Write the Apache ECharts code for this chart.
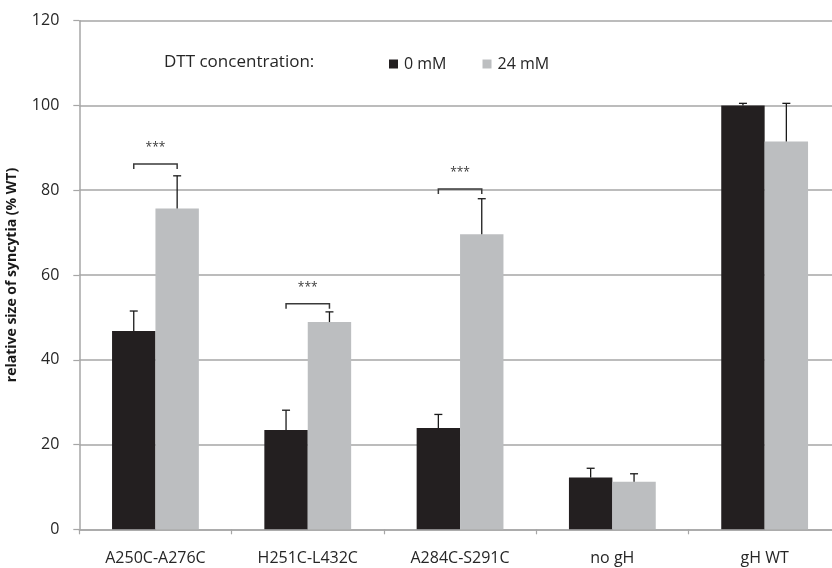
<!DOCTYPE html>
<html>
<head>
<meta charset="utf-8">
<script src="https://cdn.jsdelivr.net/npm/echarts@6/dist/echarts.min.js"></script>
<style>html,body{margin:0;padding:0;background:#fff}#c{width:832px;height:568px}</style>
</head>
<body>
<div id="c"></div>
<script>
const categories = ['A250C-A276C', 'H251C-L432C', 'A284C-S291C', 'no gH', 'gH WT'];
const seriesNames = ['0 mM', '24 mM'];
const values0mM = [46.8, 23.4, 23.9, 12.2, 100.0];
const errTop0mM = [51.5, 28.1, 27.1, 14.4, 100.5];
const values24mM = [75.7, 48.9, 69.6, 11.2, 91.5];
const errTop24mM = [83.4, 51.3, 78.0, 13.1, 100.5];
// significance brackets: category index, bracket level, label
const sigCategories = [0, 1, 2];
const sigLevels = [86.2, 53.2, 80.3];
const sigLabels = ['***', '***', '***'];
const yTicks = [0, 20, 40, 60, 80, 100, 120];

const COLORS = ['#231f20', '#bcbec0'];
const FONT = '"Open Sans", "Noto Sans", sans-serif';
const CAT_GAP = 0.43;

function barHalf(api) {
  const band = api.size([1, 0])[0];
  return band * (1 - CAT_GAP) / 2;
}

function errSeries(idx, vals, tops) {
  return {
    type: 'custom',
    name: seriesNames[idx] + ' err',
    z: 5,
    silent: true,
    data: vals.map((v, i) => [i, v, tops[i]]),
    renderItem: function (params, api) {
      const bw = barHalf(api);
      const base = api.coord([api.value(0), api.value(1)]);
      const top = api.coord([api.value(0), api.value(2)]);
      const x = base[0] + (idx === 0 ? -bw / 2 : bw / 2);
      const style = { stroke: '#1a1a1a', lineWidth: 1.3 };
      return {
        type: 'group',
        children: [
          { type: 'line', shape: { x1: x, y1: base[1], x2: x, y2: top[1] }, style },
          { type: 'line', shape: { x1: x - 4, y1: top[1], x2: x + 4, y2: top[1] }, style }
        ]
      };
    }
  };
}

const chart = echarts.init(document.getElementById('c'));
chart.setOption({
  animation: false,
  backgroundColor: '#fff',
  grid: { left: 79.3, top: 20.7, height: 508.6, width: 761.5, containLabel: false, outerBoundsMode: 'none' },
  legend: {
    left: 384, top: 51,
    itemWidth: 9, itemHeight: 9, itemGap: 36,
    icon: 'rect',
    data: seriesNames,
    textStyle: { fontFamily: FONT, fontSize: 16, color: '#262626', padding: [0, 0, 0, 1] }
  },
  graphic: [{
    type: 'text', left: 164, top: 54,
    style: { text: 'DTT concentration:', font: '17px ' + FONT, fill: '#262626' }
  }],
  xAxis: {
    type: 'category',
    data: categories,
    boundaryGap: true,
    axisLine: { lineStyle: { color: '#a6a6a6', width: 1.5 } },
    axisTick: { show: true, length: 5, lineStyle: { color: '#a6a6a6', width: 1.2 } },
    axisLabel: { fontFamily: FONT, fontSize: 16, color: '#262626', margin: 21 }
  },
  yAxis: {
    type: 'value',
    min: 0, max: 120, interval: 20,
    name: 'relative size of syncytia (% WT)',
    nameLocation: 'middle',
    nameGap: 60,
    nameTextStyle: { fontFamily: FONT, fontSize: 14, fontWeight: 'bold', color: '#1a1a1a' },
    axisLine: { show: true, lineStyle: { color: '#a6a6a6', width: 1.5 } },
    axisTick: { show: true, length: 6, lineStyle: { color: '#a6a6a6', width: 1.2 } },
    splitLine: { show: true, lineStyle: { color: '#a6a6a6', width: 1.5 } },
    axisLabel: { fontFamily: FONT, fontSize: 16, color: '#262626', margin: 20,
      formatter: v => yTicks.includes(v) ? String(v) : '' }
  },
  series: [
    { type: 'bar', name: seriesNames[0], data: values0mM, barGap: '0%', barCategoryGap: (CAT_GAP * 100) + '%',
      itemStyle: { color: COLORS[0] }, z: 3 },
    { type: 'bar', name: seriesNames[1], data: values24mM, barGap: '0%', barCategoryGap: (CAT_GAP * 100) + '%',
      itemStyle: { color: COLORS[1] }, z: 3 },
    errSeries(0, values0mM, errTop0mM),
    errSeries(1, values24mM, errTop24mM),
    {
      type: 'custom',
      name: 'sig',
      z: 6,
      silent: true,
      data: sigCategories.map((c, i) => [c, sigLevels[i]]),
      renderItem: function (params, api) {
        const bw = barHalf(api);
        const p = api.coord([api.value(0), api.value(1)]);
        const x1 = p[0] - bw / 2, x2 = p[0] + bw / 2, y = p[1];
        const style = { stroke: '#3a3a3a', lineWidth: 1.5, fill: null };
        return {
          type: 'group',
          children: [
            { type: 'polyline', shape: { points: [[x1, y + 5], [x1, y], [x2, y], [x2, y + 5]] }, style },
            { type: 'text', style: { text: sigLabels[params.dataIndex], x: p[0], y: y - 16,
              align: 'center', verticalAlign: 'middle', font: '12px ' + FONT, fill: '#3a3a3a' } }
          ]
        };
      }
    }
  ]
});
</script>
</body>
</html>
